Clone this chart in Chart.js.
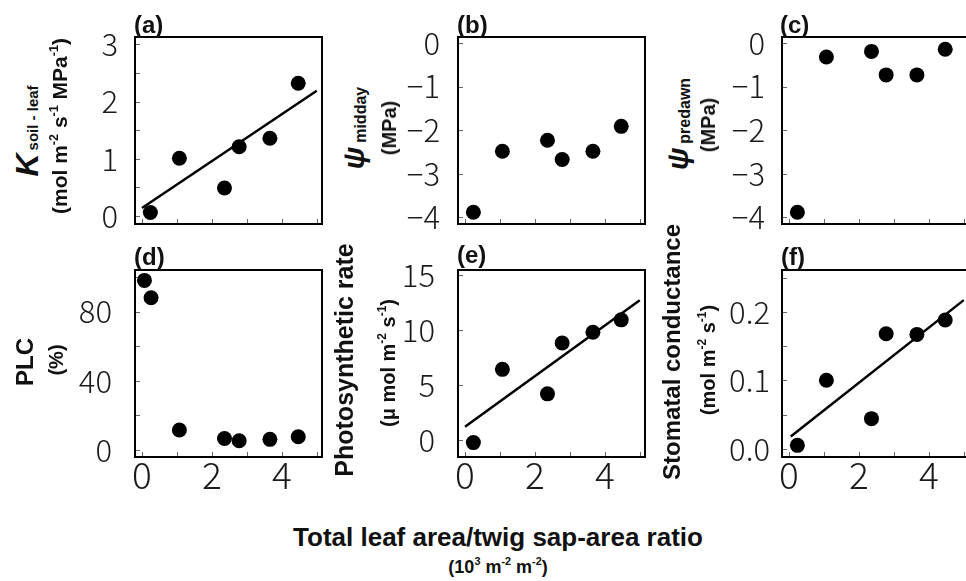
<!DOCTYPE html>
<html>
<head>
<meta charset="utf-8">
<script src="https://cdn.jsdelivr.net/npm/chart.js@4.4.1/dist/chart.umd.min.js"></script>
<style>
  html, body { margin: 0; padding: 0; background: #fff; overflow: hidden; }
  #wrap { position: relative; width: 966px; height: 581px; overflow: hidden; }
  canvas { position: absolute; }
  .t {
    position: absolute; z-index: 2;
    font-family: "Liberation Sans", Arial, Helvetica, sans-serif;
    font-weight: bold; color: #111; white-space: nowrap; line-height: 1;
    transform: translate(-50%, -50%);
  }
  .t.r { transform: translate(-50%, -50%) rotate(-90deg); }
  .t.tl { transform: none; }
  .t sup { font-size: 0.6em; vertical-align: baseline; position: relative; top: -0.75em; }
</style>
</head>
<body>
<div id="wrap"></div>
<script>
// Data
const ratio = [0.24, 1.07, 2.36, 2.78, 3.66, 4.47];
const ratioPLC = [0.07, 0.26, 1.07, 2.36, 2.78, 3.66, 4.47];
const kSoilLeaf = [0.06, 1.01, 0.49, 1.21, 1.36, 2.32];
const psiMidday = [-3.88, -2.48, -2.23, -2.67, -2.48, -1.91];
const psiPredawn = [-3.88, -0.32, -0.19, -0.73, -0.73, -0.14];
const plc = [98, 88, 11.6, 6.7, 5.4, 6.2, 7.7];
const photo = [-0.24, 6.42, 4.19, 8.81, 9.79, 10.92];
const gs = [0.005, 0.100, 0.044, 0.168, 0.167, 0.188];

// regression lines, end points
const fitK = [[0, 0.14], [5, 2.19]];
const fitPhoto = [[0, 1.2], [5, 12.7]];
const fitGs = [[0.05, 0.018], [5, 0.217]];

// ticks
const xTicks = [0, 1, 2, 3, 4, 5];
const xTickLabels = [0, 2, 4];
const kTicks = [0, 0.5, 1, 1.5, 2, 2.5, 3];
const kTickLabels = [0, 1, 2, 3];
const psiTicks = [-4, -3, -2, -1, 0];
const plcTicks = [0, 20, 40, 60, 80, 100];
const plcTickLabels = [0, 40, 80];
const photoTicks = [0, 5, 10, 15];
const gsTicks = [0, 0.05, 0.1, 0.15, 0.2, 0.25];
const gsTickLabels = [0, 0.1, 0.2];

// Layout
const BOX = 187, Y_AXIS_W = 80, X_AXIS_H = 45, PAD_T = 15, PAD_R = 10;
const TICK_FONT = '"Noto Sans CJK JP", "DejaVu Sans Condensed", sans-serif';
const wrap = document.getElementById('wrap');

const minus = v => (v < 0 ? '\u2212' + Math.abs(v) : String(v));

// inner tick marks + frame box
const frame = {
  id: 'frame',
  beforeDatasetsDraw(chart) {
    const { ctx, chartArea: a, scales: { x, y } } = chart;
    ctx.save();
    ctx.strokeStyle = '#666';
    ctx.lineWidth = 1;
    ctx.beginPath();
    x.ticks.forEach(t => {
      const px = Math.round(x.getPixelForValue(t.value)) + 0.5;
      ctx.moveTo(px, a.bottom);
      ctx.lineTo(px, a.bottom - 5);
    });
    y.ticks.forEach(t => {
      const py = Math.round(y.getPixelForValue(t.value)) + 0.5;
      ctx.moveTo(a.left, py);
      ctx.lineTo(a.left + 5, py);
    });
    ctx.stroke();
    ctx.restore();
  },
  afterDatasetsDraw(chart) {
    const { ctx, chartArea: a } = chart;
    ctx.save();
    ctx.strokeStyle = '#000';
    ctx.lineWidth = 2;
    ctx.strokeRect(a.left, a.top, a.right - a.left, a.bottom - a.top);
    ctx.restore();
  }
};

function makePanel(p) {
  const canvas = document.createElement('canvas');
  const w = Y_AXIS_W + BOX + PAD_R, h = PAD_T + BOX + X_AXIS_H;
  canvas.width = w; canvas.height = h;
  canvas.style.width = w + 'px'; canvas.style.height = h + 'px';
  canvas.style.left = (p.left - Y_AXIS_W) + 'px';
  canvas.style.top = (p.top - PAD_T) + 'px';
  wrap.appendChild(canvas);

  const datasets = [{
    type: 'scatter',
    data: p.xs.map((x, i) => ({ x, y: p.ys[i] })),
    backgroundColor: '#000', borderWidth: 0,
    pointRadius: 7.5, pointHoverRadius: 7.5
  }];
  if (p.fit) {
    datasets.push({
      type: 'line',
      data: p.fit.map(([x, y]) => ({ x, y })),
      borderColor: '#000', borderWidth: 2.5,
      pointRadius: 0, fill: false, tension: 0
    });
  }

  new Chart(canvas, {
    type: 'scatter',
    data: { datasets },
    options: {
      responsive: false, animation: false, events: [],
      layout: { padding: { top: PAD_T, right: PAD_R, left: 0, bottom: 0 } },
      plugins: { legend: { display: false }, tooltip: { enabled: false } },
      scales: {
        x: {
          type: 'linear', min: -0.2, max: 5.15,
          grid: { display: false, drawTicks: false }, border: { display: false },
          afterBuildTicks: s => { s.ticks = xTicks.map(v => ({ value: v })); },
          afterFit: s => { s.height = X_AXIS_H; s.paddingLeft = 0; s.paddingRight = 0; },
          ticks: {
            display: p.showX, padding: -4, autoSkip: false, maxRotation: 0,
            color: '#1a1a1a', font: { family: TICK_FONT, size: 37, weight: 300 },
            callback: v => (xTickLabels.includes(v) ? String(v) : '')
          }
        },
        y: {
          type: 'linear', min: p.yMin, max: p.yMax,
          grid: { display: false, drawTicks: false }, border: { display: false },
          afterBuildTicks: s => { s.ticks = p.yTicks.map(v => ({ value: v })); },
          afterFit: s => { s.width = Y_AXIS_W; s.paddingTop = 0; s.paddingBottom = 0; },
          ticks: {
            padding: p.yPad, autoSkip: false,
            color: '#1a1a1a', font: { family: TICK_FONT, size: 31, weight: 300 },
            callback: v => (p.yLabels.includes(v) ? p.fmt(v) : '')
          }
        }
      }
    },
    plugins: [frame]
  });
}

const COL = [135, 458, 782], ROW = [37, 270];

makePanel({ left: COL[0], top: ROW[0], xs: ratio, ys: kSoilLeaf, fit: fitK, showX: false,
  yMin: -0.14, yMax: 3.13, yTicks: kTicks, yLabels: kTickLabels, yPad: 17, fmt: String });
makePanel({ left: COL[1], top: ROW[0], xs: ratio, ys: psiMidday, showX: false,
  yMin: -4.15, yMax: 0.14, yTicks: psiTicks, yLabels: psiTicks, yPad: 18, fmt: minus });
makePanel({ left: COL[2], top: ROW[0], xs: ratio, ys: psiPredawn, showX: false,
  yMin: -4.15, yMax: 0.14, yTicks: psiTicks, yLabels: psiTicks, yPad: 17, fmt: minus });
makePanel({ left: COL[0], top: ROW[1], xs: ratioPLC, ys: plc, showX: true,
  yMin: -4, yMax: 104, yTicks: plcTicks, yLabels: plcTickLabels, yPad: 23, fmt: String });
makePanel({ left: COL[1], top: ROW[1], xs: ratio, ys: photo, fit: fitPhoto, showX: true,
  yMin: -1.55, yMax: 15.45, yTicks: photoTicks, yLabels: photoTicks, yPad: 23, fmt: String });
makePanel({ left: COL[2], top: ROW[1], xs: ratio, ys: gs, fit: fitGs, showX: true,
  yMin: -0.012, yMax: 0.261, yTicks: gsTicks, yLabels: gsTickLabels, yPad: 12, fmt: v => v.toFixed(1) });

// Text labels
function text(html, x, y, size, cls) {
  const d = document.createElement('div');
  d.className = 't ' + (cls || '');
  d.style.left = x + 'px';
  d.style.top = y + 'px';
  d.style.fontSize = size + 'px';
  d.innerHTML = html;
  wrap.appendChild(d);
}

// panel letters
text('(a)', 134, 13, 24, 'tl');
text('(b)', 457, 13, 24, 'tl');
text('(c)', 780, 13, 24, 'tl');
text('(d)', 134, 245, 24, 'tl');
text('(e)', 457, 243, 24, 'tl');
text('(f)', 781, 245, 24, 'tl');

// y titles
text('<i style="font-size:32px">K</i><span style="margin-left:3px">soil - leaf</span>', 27, 131, 15, 'r');
text('(mol m<sup>-2</sup> s<sup>-1</sup> MPa<sup>-1</sup>)', 59, 126, 21, 'r');
text('<i style="font-size:29px">\u03c8</i><span style="margin-left:4px;position:relative;top:2px">midday</span>', 354, 128, 16, 'r');
text('(MPa)', 389, 128, 20, 'r');
text('<i style="font-size:29px">\u03c8</i><span style="margin-left:4px;position:relative;top:2px">predawn</span>', 678, 124, 16, 'r');
text('(MPa)', 708, 125, 20, 'r');
text('PLC', 25, 362, 24, 'r');
text('(%)', 56, 360, 20, 'r');
text('Photosynthetic rate', 344, 360, 25, 'r');
text('(\u03bc mol m<sup>-2</sup> s<sup>-1</sup>)', 388, 363, 20, 'r');
text('Stomatal conductance', 672, 352, 24, 'r');
text('(mol m<sup>-2</sup> s<sup>-1</sup>)', 708, 360, 20, 'r');

// x title
text('Total leaf area/twig sap-area ratio', 498, 537, 26);
text('(10<sup>3</sup> m<sup>-2</sup> m<sup>-2</sup>)', 498, 567, 18);
</script>
</body>
</html>
